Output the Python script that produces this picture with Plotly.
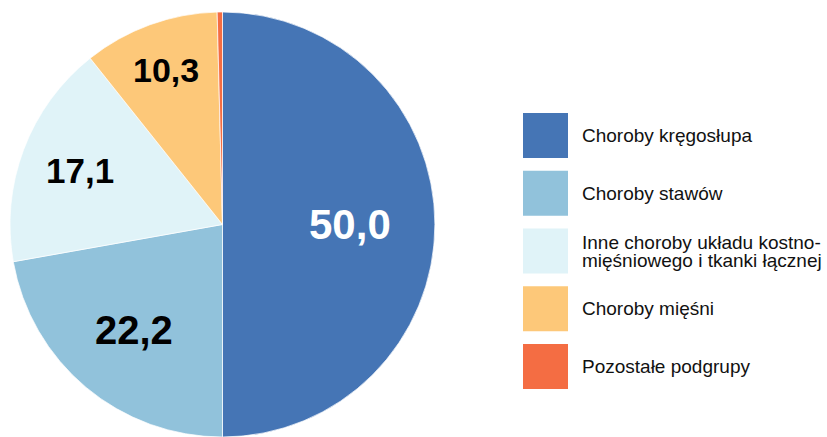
import math
import plotly.graph_objects as go

# ---- data ----
categories = [
    "Choroby kręgosłupa",
    "Choroby stawów",
    "Inne choroby układu kostno-<br>mięśniowego i tkanki łącznej",
    "Choroby mięśni",
    "Pozostałe podgrupy",
]
values = [50.0, 22.2, 17.1, 10.3, 0.4]
value_labels = ["50,0", "22,2", "17,1", "10,3", ""]

# ---- styles ----
colors = ["#4575B5", "#91C2DB", "#E0F3F8", "#FDC879", "#F46D43"]
label_colors = ["white", "black", "black", "black", "black"]
label_sizes = [42, 40, 35, 34, 34]
label_radius = [0.60, 0.645, 0.718, 0.773, 0.8]

W, H = 827, 437
cx, cy, R = 222.5, 224.5, 212.5  # pixel centre & radius of pie

def px(x, y):
    return x / W, 1 - y / H

fig = go.Figure()
dx0, dy1 = px(cx - R, cy - R)
dx1, dy0 = px(cx + R, cy + R)
fig.add_trace(go.Pie(
    values=values,
    labels=[c.replace("<br>", " ") for c in categories],
    sort=False,
    direction="clockwise",
    rotation=0,
    marker=dict(colors=colors, line=dict(color="white", width=0.7)),
    textinfo="none",
    hoverinfo="label+value",
    showlegend=False,
    domain=dict(x=[dx0, dx1], y=[max(dy0, 0), min(dy1, 1)]),
))

annotations = []
shapes = []

# value labels placed along each slice's mid-angle
total = sum(values)
cum = 0.0
for v, lab, col, sz, rr in zip(values, value_labels, label_colors, label_sizes, label_radius):
    mid = (cum + v / 2) / total * 2 * math.pi
    cum += v
    if not lab:
        continue
    x = cx + rr * R * math.sin(mid)
    y = cy - rr * R * math.cos(mid)
    ax, ay = px(x, y)
    annotations.append(dict(
        x=ax, y=ay, xref="paper", yref="paper", text=f"<b>{lab}</b>",
        showarrow=False, xanchor="center", yanchor="middle",
        font=dict(family="Liberation Sans, Arial, sans-serif", size=sz, color=col),
    ))

# custom legend
sq_x0, sq_size = 523, 45
row_top0, row_pitch = 113, 57.75
text_x = 580
line_gap = 18
for i, (cat, col) in enumerate(zip(categories, colors)):
    top = row_top0 + i * row_pitch
    x0, y1 = px(sq_x0, top)
    x1, y0 = px(sq_x0 + sq_size, top + sq_size)
    shapes.append(dict(type="rect", xref="paper", yref="paper",
                       x0=x0, x1=x1, y0=y0, y1=y1,
                       fillcolor=col, line=dict(width=0)))
    lines = cat.split("<br>")
    ymid = top + sq_size / 2
    n = len(lines)
    for j, ln in enumerate(lines):
        yy = ymid + (j - (n - 1) / 2) * line_gap
        ax, ay = px(text_x, yy)
        annotations.append(dict(
            x=ax, y=ay, xref="paper", yref="paper", text=ln,
            showarrow=False, xanchor="left", yanchor="middle",
            font=dict(family="Liberation Sans, Arial, sans-serif", size=19, color="#111111"),
        ))

fig.update_layout(
    width=W, height=H,
    margin=dict(l=0, r=0, t=0, b=0),
    paper_bgcolor="white",
    plot_bgcolor="white",
    annotations=annotations,
    shapes=shapes,
)

fig.write_html(
    "out.html",
    config={"displayModeBar": False},
    post_script="document.body.style.margin='0';document.body.style.overflow='hidden';",
)
